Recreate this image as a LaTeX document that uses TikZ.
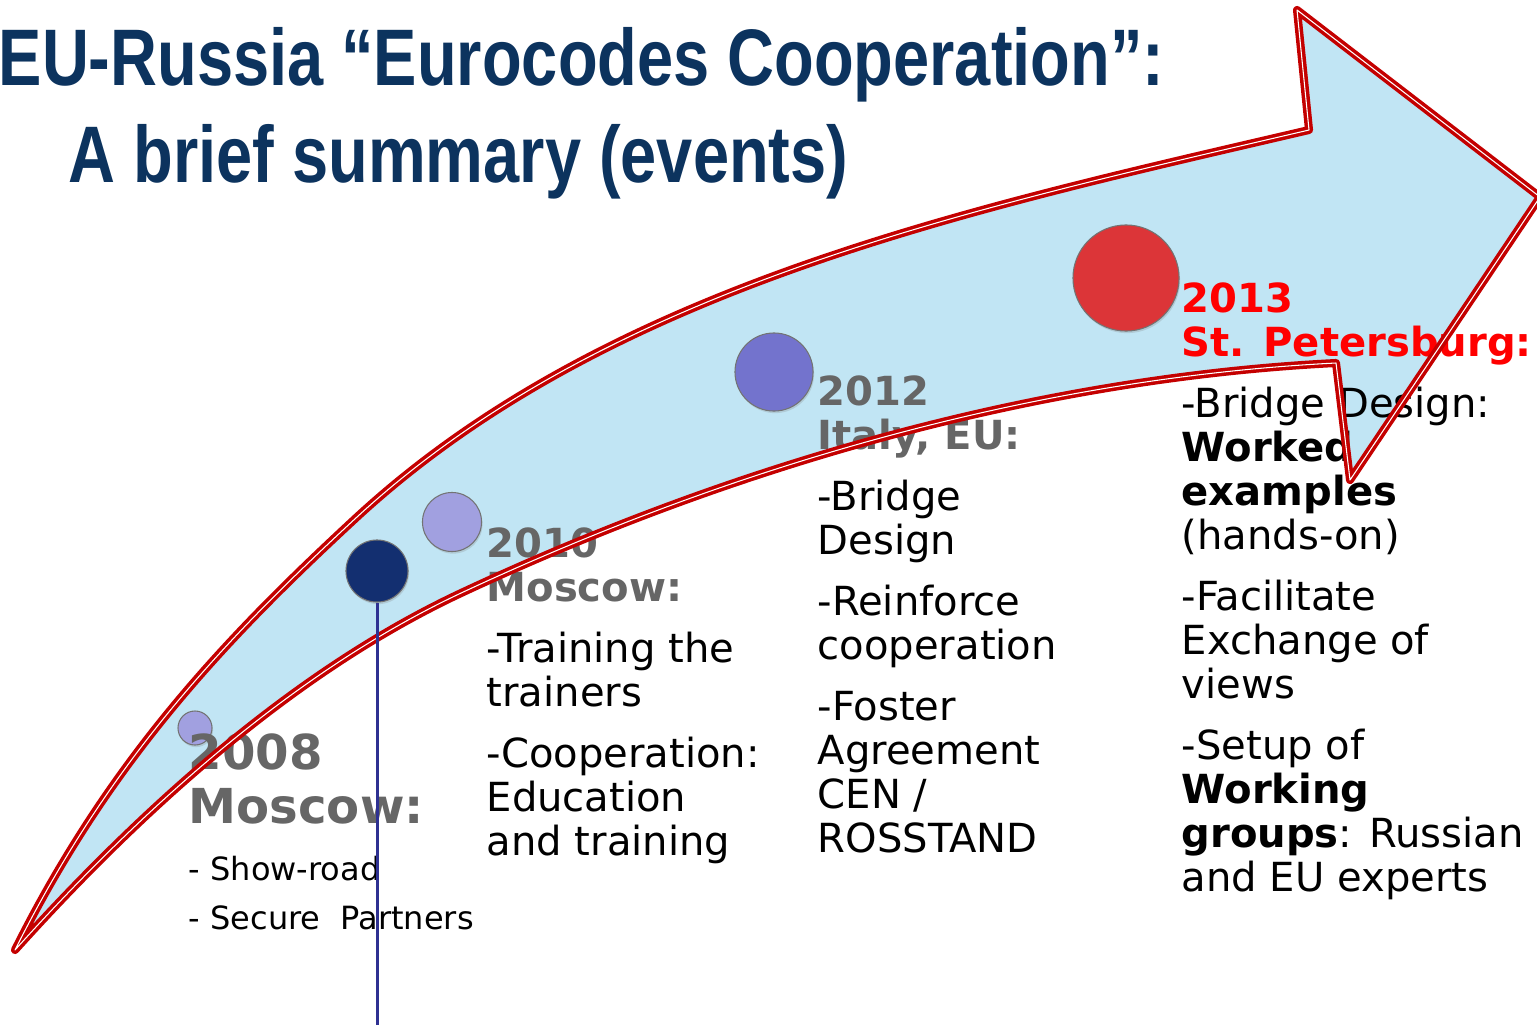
\documentclass[tikz,border=0pt]{standalone}
\usepackage{fontspec}
\setmainfont{DejaVu Sans}
\newfontfamily\titlefont[FakeStretch=0.81]{Liberation Sans}
\usetikzlibrary{shadows}

\definecolor{titleblue}{RGB}{12,51,94}
\definecolor{arrowfill}{RGB}{193,229,244}
\definecolor{arrowred}{RGB}{196,0,0}
\definecolor{headgray}{RGB}{102,102,102}
\definecolor{lilac}{RGB}{161,160,224}
\definecolor{midviolet}{RGB}{115,115,205}
\definecolor{navydot}{RGB}{19,47,112}
\definecolor{reddot}{RGB}{220,53,56}
\definecolor{stemblue}{RGB}{46,49,146}

\newcommand\bodysize{\fontsize{11.4pt}{12.5pt}\selectfont}
\newcommand\yearhead[1]{{\bfseries\color{headgray}#1}}
\newcommand\redhead[1]{{\bfseries\color{red}#1}}
% outline of the curved arrow, in pixels of the slide
\newcommand\arrowpath{(15,950) .. controls (110,760) and (225,639) .. (357,517)
    .. controls (609,285) and (975,208) .. (1309,130)
    -- (1297,10) -- (1540,197) -- (1350,480) -- (1336,363)
    .. controls (1036,378) and (732,466) .. (459,594)
    .. controls (300,669) and (150,800) .. (15,950) -- cycle}

\begin{document}
\begin{tikzpicture}
[   x=0.01cm, y=-0.01cm,
    cnode/.style={draw=black!55,fill=#1,circle,inner sep=0pt,line width=0.3pt,
        drop shadow={opacity=0.25,shadow xshift=0.3pt,shadow yshift=-0.6pt}},
    arrowline/.style={draw=arrowred,double=white,double distance=0.3pt,line width=1pt,line join=round},
    block/.style={anchor=base west,align=left,inner sep=0pt,font=\bodysize},
    title/.style={anchor=base west,inner sep=0pt,text=titleblue,font=\titlefont\bfseries\fontsize{22.8pt}{27pt}\selectfont},
    stem/.style={draw=stemblue,line width=0.85pt},
]
    \useasboundingbox (0,0) rectangle (1537,1024);

    % title
    \node[title] (title1) at (-2,85) {EU-Russia “Eurocodes Cooperation”:};
    \node[title] (title2) at (68,182) {A brief summary (events)};

    % the big curved arrow
    \fill[black,opacity=0.12,xshift=0.6pt,yshift=-0.9pt] \arrowpath;
    \fill[arrowfill] \arrowpath;

    % the dots
    \foreach \name/\x/\y/\r/\col in {d2008/195/728/17/lilac, dnow/377/571/31/navydot,
        d2010/452/522/29.5/lilac, d2012/774/372/39/midviolet, d2013/1126/278/53/reddot}
    {
        \node[cnode=\col,minimum size={\r*0.02cm}] (\name) at (\x,\y) {};
    }

    % the events (base = baseline of the last line)
    \node[block,font=\bfseries\fontsize{13.7pt}{15.1pt}\selectfont,text=headgray] (h2008) at (188,823) {2008\\Moscow:};
    \node[block,font=\fontsize{9.1pt}{13.9pt}\selectfont] (t2008) at (188,929) {- Show-road\\- Secure\ \ Partners};

    \node[block] (t2010) at (486,855) {\yearhead{2010}\\\yearhead{Moscow:}\\[4.8pt]
        -Training the\\trainers\\[4.8pt]
        -Cooperation:\\Education\\and training};

    \node[block] (t2012) at (817,852) {\yearhead{2012}\\\yearhead{Italy, EU:}\\[4.8pt]
        -Bridge\\Design\\[4.8pt]
        -Reinforce\\cooperation\\[4.8pt]
        -Foster\\Agreement\\CEN /\\ROSSTAND};

    \node[block] (t2013) at (1181,891) {\redhead{2013}\\\redhead{St. Petersburg:}\\[4.8pt]
        -Bridge Design:\\\textbf{Worked}\\\textbf{examples}\\(hands-on)\\[4.8pt]
        -Facilitate\\Exchange of\\views\\[4.8pt]
        -Setup of\\\textbf{Working}\\\textbf{groups}: Russian\\and EU experts};

    % outline on top
    \path[arrowline] \arrowpath;

    % stem of the current dot
    \coordinate (stemend) at (377,1030);
    \draw[stem] (dnow.south) -- (stemend);
\end{tikzpicture}
\end{document}
